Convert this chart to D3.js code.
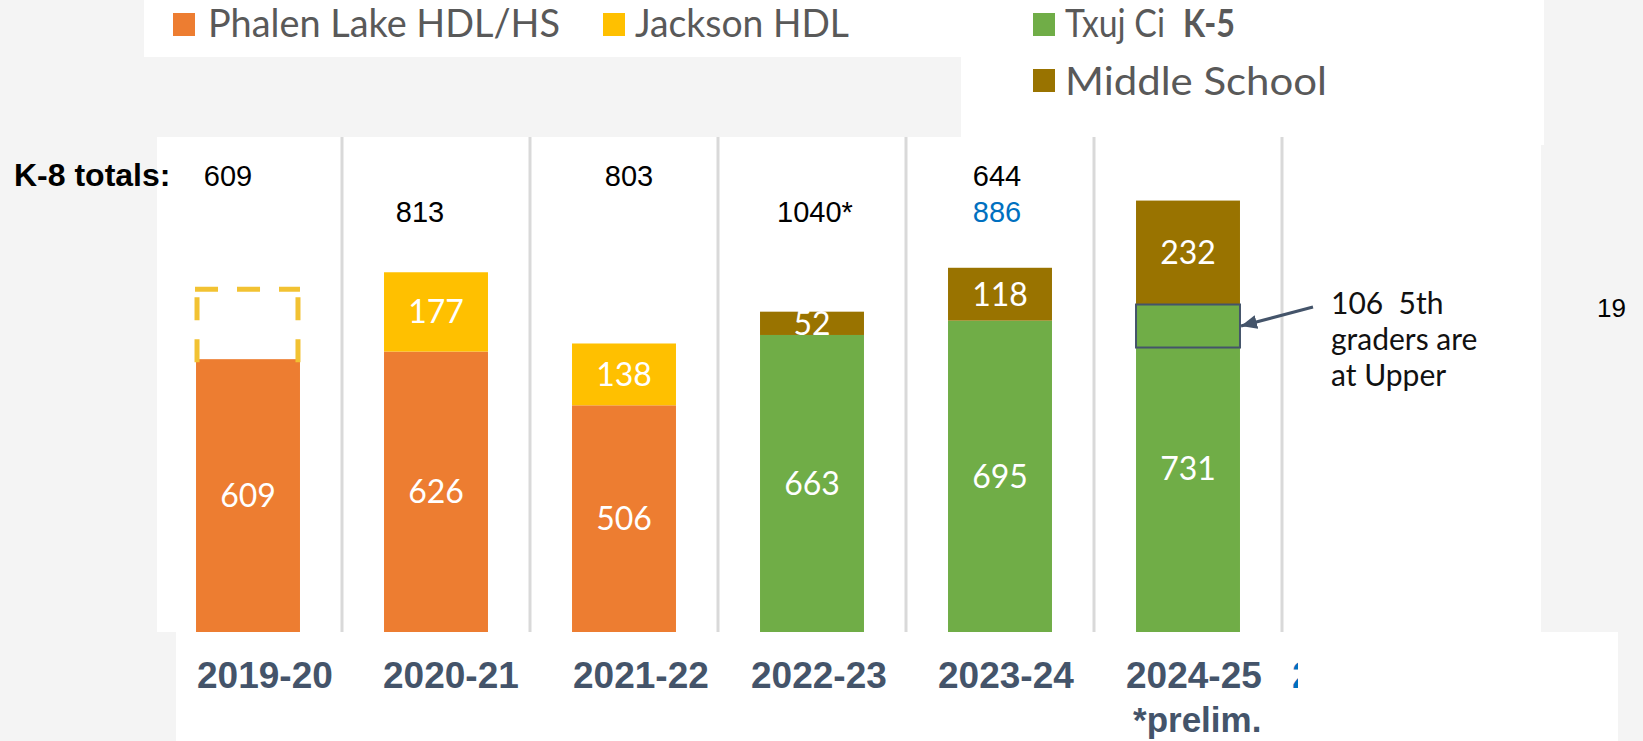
<!DOCTYPE html>
<html>
<head>
<meta charset="utf-8">
<script src="https://cdn.jsdelivr.net/npm/d3@7"></script>
<style>
  html, body { margin: 0; padding: 0; background: #f4f4f4; overflow: hidden; }
</style>
</head>
<body>
<div id="chart"></div>
<script>
// ---- data ----
const years = ["2019-20", "2020-21", "2021-22", "2022-23", "2023-24", "2024-25", "2025-26"];
const phalen  = [609, 626, 506, 0, 0, 0, 0];
const jackson = [0, 177, 138, 0, 0, 0, 0];
const txujCi  = [0, 0, 0, 663, 695, 731, 0];
const middle  = [0, 0, 0, 52, 118, 232, 0];
// empty dashed box over 2019-20 (no Jackson HDL that year)
const jacksonPlaceholder = [156, 0, 0, 0, 0, 0, 0];
const totalsRow1 = ["609", "", "803", "", "644", "", ""];
const totalsRow2 = ["", "813", "", "1040*", "886", "", ""];
const upperBoxSpan = 96;   // outlined slice of the 2024-25 green bar
const noteLines = ["106  5th", "graders are", "at Upper"];
const legendNames = ["Phalen Lake HDL/HS", "Jackson HDL", "Txuj Ci", "Middle School"];

const colors = {
    phalen: "#ed7d31",
    jackson: "#ffc000",
    txujCi: "#70ad47",
    middle: "#997300"
};

const width = 1643, height = 741;
const arial = "'Liberation Sans', Arial, sans-serif";
const calib = "Lato, 'Open Sans', sans-serif";

const svg = d3.select("#chart").append("svg")
    .attr("width", width)
    .attr("height", height);

svg.append("rect")
    .attr("width", width)
    .attr("height", height)
    .attr("fill", "#f4f4f4");

// white pasted panels
const panels = [[144, 0, 817, 57], [961, 0, 583, 145], [157, 137, 1384, 495], [176, 632, 1442, 109]];
svg.selectAll("rect.panel")
    .data(panels)
    .join("rect")
    .attr("class", "panel")
    .attr("x", d => d[0]).attr("y", d => d[1])
    .attr("width", d => d[2]).attr("height", d => d[3])
    .attr("fill", "#fff");

// scales
const xg = d3.scaleBand().domain(years).range([154, 1470]);
const x = d3.scaleBand().domain(years).range([154, 1470])
    .paddingInner(0.447).paddingOuter(0.2235);
const y = d3.scaleLinear().domain([0, 1000]).range([632, 184]);

// vertical separators
svg.append("g")
    .selectAll("line")
    .data(years.slice(0, 6))
    .join("line")
    .attr("x1", d => xg(d) + xg.step())
    .attr("x2", d => xg(d) + xg.step())
    .attr("y1", 137)
    .attr("y2", y(0))
    .attr("stroke", "#d9d9d9")
    .attr("stroke-width", 3);

// stacked bars
const rows = years.map((yr, i) => ({
    year: yr, phalen: phalen[i], jackson: jackson[i], txujCi: txujCi[i], middle: middle[i]
}));
const keys = ["phalen", "jackson", "txujCi", "middle"];
const stacked = d3.stack().keys(keys)(rows);

const segs = [];
stacked.forEach(s => {
    s.forEach(d => {
        if (d[1] - d[0] > 0) segs.push({key: s.key, year: d.data.year, y0: d[0], y1: d[1]});
    });
});

svg.append("g")
    .selectAll("rect")
    .data(segs)
    .join("rect")
    .attr("x", d => x(d.year))
    .attr("width", x.bandwidth())
    .attr("y", d => y(d.y1))
    .attr("height", d => y(d.y0) - y(d.y1))
    .attr("fill", d => colors[d.key]);

svg.append("g")
    .selectAll("text")
    .data(segs)
    .join("text")
    .attr("x", d => x(d.year) + x.bandwidth() / 2)
    .attr("y", d => (y(d.y0) + y(d.y1)) / 2)
    .attr("dy", "0.36em")
    .attr("text-anchor", "middle")
    .attr("font-family", calib)
    .attr("font-size", 32)
    .attr("fill", "#fff")
    .text(d => d.y1 - d.y0);

// dashed placeholder box
years.forEach((yr, i) => {
    if (!jacksonPlaceholder[i]) return;
    const base = phalen[i];
    const x0 = x(yr) + 1, x1 = x(yr) + x.bandwidth() - 2;
    const yb = y(base), yt = y(base + jacksonPlaceholder[i]);
    const g = svg.append("g")
        .attr("stroke", "#f2c232")
        .attr("stroke-width", 5)
        .attr("stroke-dasharray", "23 19")
        .attr("fill", "none");
    g.append("line").attr("x1", x0 - 2).attr("x2", x1 + 2).attr("y1", yt).attr("y2", yt);
    g.append("line").attr("x1", x0).attr("x2", x0).attr("y1", yb + 3).attr("y2", yt);
    g.append("line").attr("x1", x1).attr("x2", x1).attr("y1", yb + 3).attr("y2", yt);
});

// outlined slice and arrow (2024-25)
const hlYear = "2024-25";
const hlIdx = years.indexOf(hlYear);
const hlTop = y(txujCi[hlIdx]);
const hlBot = y(txujCi[hlIdx] - upperBoxSpan);
svg.append("rect")
    .attr("x", x(hlYear))
    .attr("y", hlTop)
    .attr("width", x.bandwidth())
    .attr("height", hlBot - hlTop)
    .attr("fill", "none")
    .attr("stroke", "#44546a")
    .attr("stroke-width", 2);

svg.append("defs").append("marker")
    .attr("id", "head")
    .attr("markerUnits", "userSpaceOnUse")
    .attr("markerWidth", 18)
    .attr("markerHeight", 16)
    .attr("refX", 16)
    .attr("refY", 7)
    .attr("orient", "auto")
    .append("path")
    .attr("d", "M0,0L16,7L0,14Z")
    .attr("fill", "#44546a");

const tipX = x(hlYear) + x.bandwidth() + 1;
const tipY = (hlTop + hlBot) / 2;
svg.append("line")
    .attr("x1", tipX + 72).attr("y1", tipY - 19)
    .attr("x2", tipX).attr("y2", tipY)
    .attr("stroke", "#44546a")
    .attr("stroke-width", 3)
    .attr("marker-end", "url(#head)");

svg.append("g")
    .selectAll("text")
    .data(noteLines)
    .join("text")
    .attr("x", 1331)
    .attr("y", (d, i) => 314 + i * 36)
    .attr("font-family", calib)
    .attr("font-size", 30)
    .attr("fill", "#111")
    .style("white-space", "pre")
    .text(d => d);

// K-8 totals
svg.append("text")
    .attr("x", 14).attr("y", 186)
    .attr("font-family", arial)
    .attr("font-weight", "bold")
    .attr("font-size", 32)
    .attr("fill", "#000")
    .text("K-8 totals:");

const totalsDx = [-20, -16, 5, 3, -3, 1, 0];
[[totalsRow1, 186], [totalsRow2, 222]].forEach(([row, by]) => {
    svg.append("g")
        .selectAll("text")
        .data(years.map((yr, i) => ({yr, i, t: row[i]})).filter(d => d.t))
        .join("text")
        .attr("x", d => x(d.yr) + x.bandwidth() / 2 + totalsDx[d.i])
        .attr("y", by)
        .attr("text-anchor", "middle")
        .attr("font-family", arial)
        .attr("font-size", 29)
        .attr("fill", d => (row === totalsRow2 && d.yr === "2023-24") ? "#0070c0" : "#000")
        .text(d => d.t);
});

// category labels
const labelDx = [43, 41, 43, 33, 32, 32, 10];
svg.append("defs").append("clipPath")
    .attr("id", "cutLast")
    .append("rect")
    .attr("x", xg("2025-26")).attr("y", 600)
    .attr("width", 16).attr("height", 141);

svg.append("g")
    .selectAll("text")
    .data(years)
    .join("text")
    .attr("x", (d, i) => xg(d) + labelDx[i])
    .attr("y", 688)
    .attr("font-family", arial)
    .attr("font-weight", "bold")
    .attr("font-size", 37)
    .attr("fill", (d, i) => i === 6 ? "#0070c0" : "#44546a")
    .attr("clip-path", (d, i) => i === 6 ? "url(#cutLast)" : null)
    .text(d => d);

svg.append("text")
    .attr("x", x("2024-25") - 3).attr("y", 732)
    .attr("font-family", arial)
    .attr("font-weight", "bold")
    .attr("font-size", 35)
    .attr("fill", "#44546a")
    .text("*prelim.");

svg.append("text")
    .attr("x", 1597).attr("y", 317)
    .attr("font-family", arial)
    .attr("font-size", 26)
    .attr("fill", "#000")
    .text("19");

// legend
const legendItems = [
    {name: legendNames[0], key: "phalen", sx: 173, sy: 13, tx: 208, ty: 37, len: 352},
    {name: legendNames[1], key: "jackson", sx: 603, sy: 13, tx: 635, ty: 37, len: 214},
    {name: legendNames[2], key: "txujCi", sx: 1033, sy: 13, tx: 1065, ty: 37, len: 100},
    {name: legendNames[3], key: "middle", sx: 1033, sy: 69, tx: 1065, ty: 95, len: 262}
];
const lg = svg.append("g");
lg.selectAll("rect")
    .data(legendItems)
    .join("rect")
    .attr("x", d => d.sx).attr("y", d => d.sy)
    .attr("width", 22).attr("height", 23)
    .attr("fill", d => colors[d.key]);
lg.selectAll("text")
    .data(legendItems)
    .join("text")
    .attr("x", d => d.tx).attr("y", d => d.ty)
    .attr("font-family", calib)
    .attr("font-size", 38)
    .attr("fill", "#595959")
    .attr("textLength", d => d.len)
    .attr("lengthAdjust", "spacingAndGlyphs")
    .text(d => d.name);
lg.append("text")
    .attr("x", 1183).attr("y", 37)
    .attr("font-family", calib)
    .attr("font-weight", "bold")
    .attr("font-size", 38)
    .attr("fill", "#595959")
    .attr("textLength", 52)
    .attr("lengthAdjust", "spacingAndGlyphs")
    .text("K-5");
</script>
</body>
</html>
